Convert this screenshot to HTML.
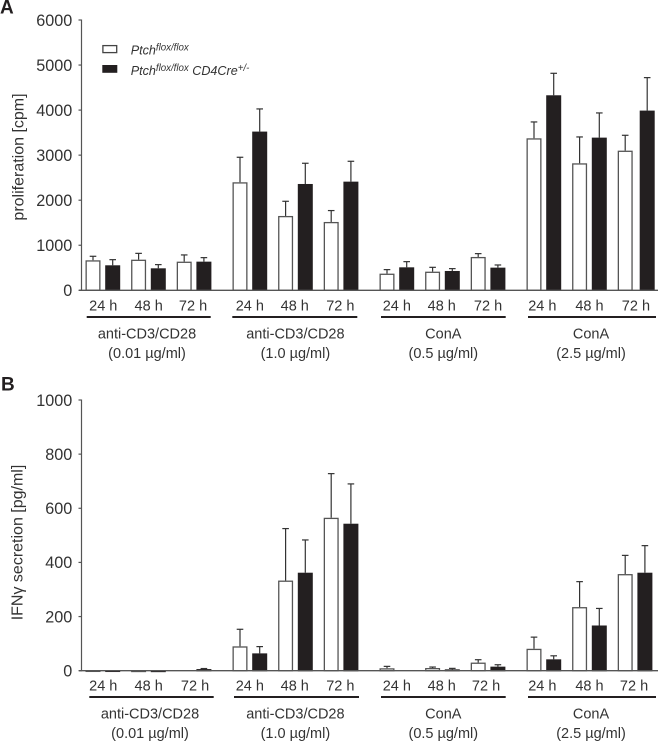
<!DOCTYPE html>
<html lang="en">
<head>
<meta charset="utf-8">
<title>Proliferation and IFN-gamma secretion</title>
<style>
  html, body { margin: 0; padding: 0; background: #fff; }
  body { width: 666px; height: 741px; overflow: hidden; }
  svg { display: block; font-family: "Liberation Sans", sans-serif; fill: #333; filter: blur(0.3px); }
  .legend-text { font-size: 12.6px; font-style: italic; fill: #333; }
  .sup { font-size: 9.7px; }
</style>
</head>
<body>
<svg id="chart" xmlns="http://www.w3.org/2000/svg" width="666" height="741" viewBox="0 0 666 741">
  <text x="0" y="13.5" font-size="19" font-weight="bold" fill="#231f20">A</text>
  <text x="1" y="390.7" font-size="19" font-weight="bold" fill="#231f20">B</text>
  <g>
    <rect x="102.9" y="45.6" width="13.8" height="7" fill="#fff" stroke="#444" stroke-width="1.3"/>
    <text class="legend-text" x="130.7" y="54.5">Ptch<tspan class="sup" dy="-4">flox/flox</tspan></text>
    <rect x="102.3" y="65" width="15" height="7.8" fill="#231f20"/>
    <text class="legend-text" x="130.7" y="75">Ptch<tspan class="sup" dy="-4">flox/flox</tspan><tspan dy="4"> CD4Cre</tspan><tspan class="sup" dy="-4">+/-</tspan></text>
  </g>
  <text transform="translate(23.5 157) rotate(-90)" text-anchor="middle" font-size="16">proliferation [cpm]</text>
  <text transform="translate(22.7 542.5) rotate(-90)" text-anchor="middle" font-size="16">IFNγ secretion [pg/ml]</text>
</svg>
<script>
// Shared categories
const timeLabels = ['24 h', '48 h', '72 h'];
const groupNames = ['anti-CD3/CD28', 'anti-CD3/CD28', 'ConA', 'ConA'];
const groupDoses = ['(0.01 µg/ml)', '(1.0 µg/ml)', '(0.5 µg/ml)', '(2.5 µg/ml)'];

// Panel A: proliferation [cpm]
const ticksA = [0, 1000, 2000, 3000, 4000, 5000, 6000];
const whiteMeansA = [666, 680, 636, 2398, 1650, 1517, 370, 414, 740, 3374, 2819, 3100];
const whiteErrorsA = [89, 140, 149, 555, 326, 253, 89, 96, 74, 363, 585, 341];
const blackMeansA = [555, 488, 636, 3523, 2360, 2412, 510, 429, 503, 4329, 3389, 3989];
const blackErrorsA = [125, 82, 89, 503, 460, 452, 126, 52, 59, 488, 548, 732];

// Panel B: IFN-gamma secretion [pg/ml]
const ticksB = [0, 200, 400, 600, 800, 1000];
const whiteMeansB = [1, 0.5, 0, 90, 333, 565, 9, 10, 30, 81, 235, 357];
const whiteErrorsB = [0, 0, 0, 63, 192, 163, 7, 3.5, 10.6, 43, 94, 69];
const blackMeansB = [1, 0.5, 6, 64, 362, 543, 0, 5, 15, 42, 167, 362];
const blackErrorsB = [0, 0, 2, 25, 121, 147, 0, 3.6, 7, 13, 63, 100];

const svg = document.getElementById('chart');
const NS = 'http://www.w3.org/2000/svg';

function mk(tag, attrs, parent) {
  const el = document.createElementNS(NS, tag);
  for (const k in attrs) el.setAttribute(k, attrs[k]);
  (parent || svg).appendChild(el);
  return el;
}

function drawPanel(p) {
  const yScale = v => p.y0 - (v / p.max) * (p.y0 - p.yTop);
  const xWhite = i => {
    const g = Math.floor(i / 3);
    return 93 + g * 147 + (i % 3) * 45.6;
  };
  const xBlack = i => xWhite(i) + (i === 11 ? p.lastGap : 19.7);

  const root = mk('g', {});
  
  

  const series = [
    { key: 'white', means: p.whiteMeans, errs: p.whiteErrors, x: xWhite, fill: '#fff', stroke: '#555' },
    { key: 'black', means: p.blackMeans, errs: p.blackErrors, x: xBlack, fill: '#231f20', stroke: '#231f20' }
  ];

  series.forEach(s => {
    s.means.forEach((v, i) => {
      const cx = s.x(i);
      const top = yScale(v);
      const errTop = yScale(v + s.errs[i]);
      if (s.errs[i] > 0) {
        const stem = mk('line', { x1: cx, x2: cx, y1: top, y2: errTop, stroke: '#333', 'stroke-width': 1.2 }, root);
        
        
        const cap = mk('line', { x1: cx - 3.3, x2: cx + 3.3, y1: errTop, y2: errTop, stroke: '#333', 'stroke-width': 1.2 }, root);
        
        
      }
      if (v > 0) {
        const h = Math.max(p.y0 - top - 0.65, 0.3);
        const bar = mk('rect', { x: cx - 6.85, y: top + 0.65, width: 13.7, height: h, fill: s.fill, stroke: s.stroke, 'stroke-width': 1.3 }, root);
        
        
      }
    });
  });

  // Axes
  const yAxis = mk('line', { x1: 81.5, x2: 81.5, y1: p.yTop - 0.5, y2: p.y0 + 0.5, stroke: '#555', 'stroke-width': 1.2 }, root);
  
  
  const xAxis = mk('line', { x1: 79, x2: 658, y1: p.y0, y2: p.y0, stroke: '#555', 'stroke-width': 1.3 }, root);
  
  

  p.ticks.forEach(t => {
    const y = yScale(t);
    const tick = mk('line', { x1: 78.5, x2: 81.5, y1: y, y2: y, stroke: '#555', 'stroke-width': 1.2 }, root);
    
    
    const label = mk('text', { x: 72.3, y: y + 5.8, 'text-anchor': 'end', 'font-size': 16.2 }, root);
    
    
    label.textContent = t;
  });

  // Time labels under each pair of bars
  for (let i = 0; i < 12; i++) {
    const cx = (xWhite(i) + xBlack(i)) / 2 + p.timeNudge[i];
    const tl = mk('text', { x: cx, y: p.timeY, 'text-anchor': 'middle', 'font-size': 14.5 }, root);
    
    
    tl.textContent = timeLabels[i % 3];
  }

  // Group rules and labels
  groupNames.forEach((name, g) => {
    const rule = mk('line', { x1: p.ruleStart[g], x2: p.ruleEnd[g], y1: p.ruleY, y2: p.ruleY, stroke: '#231f20', 'stroke-width': 2 }, root);
    
    
    const cx = p.labelCenter[g];
    const n = mk('text', { x: cx, y: p.ruleY + 21.3, 'text-anchor': 'middle', 'font-size': 14.5 }, root);
    
    
    n.textContent = name;
    const d = mk('text', { x: cx, y: p.ruleY + 41.2, 'text-anchor': 'middle', 'font-size': 14.5 }, root);
    
    
    d.textContent = groupDoses[g];
  });
}

drawPanel({
  id: 'a', y0: 290.3, yTop: 20, max: 6000, ticks: ticksA,
  whiteMeans: whiteMeansA, whiteErrors: whiteErrorsA,
  blackMeans: blackMeansA, blackErrors: blackErrorsA,
  lastGap: 22, timeY: 310.4, ruleY: 317,
  timeNudge: [0.4, 0.2, -1, 0, -0.7, -0.7, 0, -0.7, 0, -1.5, 0, -0.3],
  labelCenter: [147, 295.4, 443.3, 591],
  ruleStart: [86.7, 232.3, 381, 528], ruleEnd: [210.7, 357.3, 505.7, 656]
});
drawPanel({
  id: 'b', y0: 670.7, yTop: 400, max: 1000, ticks: ticksB,
  whiteMeans: whiteMeansB, whiteErrors: whiteErrorsB,
  blackMeans: blackMeansB, blackErrors: blackErrorsB,
  lastGap: 19.7, timeY: 690.4, ruleY: 697,
  timeNudge: [0.4, 0.2, 1, 0, -0.7, -0.7, 0, -0.7, -2, -1.5, 0, -1],
  labelCenter: [150, 295.4, 443.3, 591],
  ruleStart: [89.3, 234, 381, 528], ruleEnd: [213.7, 359, 505.7, 656]
});
</script>
</body>
</html>
